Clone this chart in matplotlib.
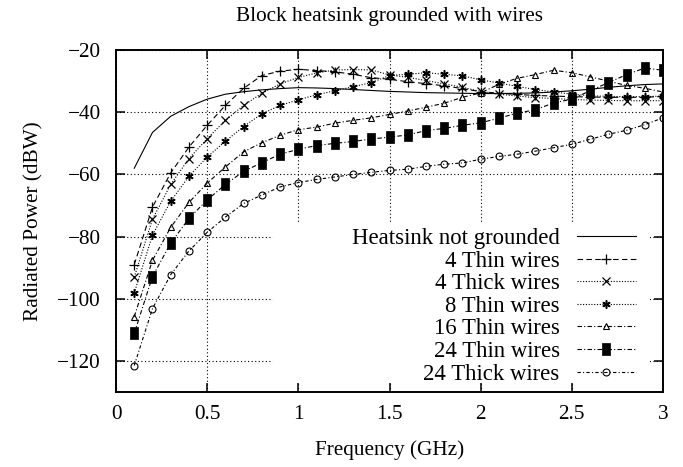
import matplotlib
matplotlib.use("Agg")
import matplotlib.pyplot as plt
from matplotlib.patches import Rectangle

plt.rcParams['font.family'] = ['Liberation Serif', 'DejaVu Serif']

freq = [0.1, 0.2, 0.3, 0.4, 0.5, 0.6, 0.7, 0.8, 0.9, 1.0,
        1.1, 1.2, 1.3, 1.4, 1.5, 1.6, 1.7, 1.8, 1.9, 2.0,
        2.1, 2.2, 2.3, 2.4, 2.5, 2.6, 2.7, 2.8, 2.9, 3.0]

not_grounded = [-58.0, -46.5, -41.3, -38.2, -35.8, -34.2, -33.4, -32.8, -32.4, -32.1,
                -32.2, -32.4, -32.7, -33.0, -33.3, -33.5, -33.7, -33.8, -33.9, -34.0,
                -34.0, -33.9, -33.8, -33.5, -33.1, -32.6, -32.0, -31.5, -31.1, -30.9]
thin4 = [-89.0, -70.5, -59.5, -51.2, -44.2, -37.8, -32.3, -28.2, -26.8, -26.2,
         -26.6, -27.0, -27.8, -28.9, -29.4, -30.2, -30.8, -31.5, -32.4, -33.4,
         -33.9, -34.3, -34.6, -34.8, -35.0, -35.1, -35.2, -35.2, -35.2, -34.9]
thick4 = [-93.0, -74.4, -63.2, -54.9, -48.5, -42.6, -37.8, -33.9, -30.9, -28.8,
          -27.4, -26.4, -26.3, -26.4, -28.0, -28.8, -29.8, -30.9, -32.0, -33.3,
          -34.2, -34.8, -35.3, -35.6, -35.9, -36.1, -36.2, -36.3, -36.3, -36.3]
thin8 = [-98.1, -79.5, -68.6, -60.6, -54.4, -49.3, -44.6, -40.5, -37.8, -36.0,
         -34.4, -33.1, -31.8, -30.5, -28.2, -27.8, -27.3, -27.8, -28.3, -29.6,
         -30.6, -31.7, -32.7, -33.5, -34.2, -34.7, -34.9, -35.0, -35.0, -34.8]
thin16 = [-105.7, -87.6, -77.0, -69.0, -62.8, -57.6, -52.7, -49.8, -47.4, -45.6,
          -44.8, -43.5, -42.6, -41.8, -40.7, -39.6, -38.4, -37.1, -35.2, -33.8,
          -31.0, -29.1, -27.9, -26.5, -27.3, -28.6, -30.0, -31.4, -32.3, -33.5]
thin24 = [-111.1, -92.8, -82.1, -74.1, -68.2, -63.2, -59.0, -56.2, -53.5, -51.9,
          -50.7, -50.0, -49.4, -48.6, -48.0, -47.3, -45.9, -45.2, -44.2, -43.4,
          -41.9, -40.3, -39.2, -37.0, -35.8, -33.1, -30.5, -27.9, -25.8, -26.5]
thick24 = [-121.4, -103.1, -92.2, -84.6, -78.6, -73.7, -69.3, -66.6, -64.0, -62.6,
           -61.6, -60.8, -60.0, -59.3, -58.7, -58.3, -57.4, -56.7, -56.3, -55.1,
           -54.2, -53.5, -52.5, -51.4, -50.3, -48.7, -47.1, -45.8, -44.0, -41.8]

labels = ["Heatsink not grounded", "4 Thin wires", "4 Thick wires", "8 Thin wires",
          "16 Thin wires", "24 Thin wires", "24 Thick wires"]
xticks = [0, 0.5, 1, 1.5, 2, 2.5, 3]
xticklabels = ["0", "0.5", "1", "1.5", "2", "2.5", "3"]
yticks = [-120, -100, -80, -60, -40, -20]

fig = plt.figure(figsize=(6.83, 4.67), dpi=100)
ax = fig.add_axes([116/683, 1 - 392.3/467, (663 - 116)/683, (392.3 - 50)/467])

lw = 0.8
tall_sq = [(-2, -3), (2, -3), (2, 3), (-2, 3), (-2, -3)]
ax.plot(freq, not_grounded, color='black', lw=lw, ls='-', label=labels[0], zorder=3)
ax.plot(freq, thin4, color='black', lw=lw, ls=(0, (5, 3)), marker='+', ms=7, mew=0.9,
        label=labels[1], zorder=3)
ax.plot(freq, thick4, color='black', lw=lw, ls=(0, (1, 1.5)), marker='x', ms=5.5, mew=0.9,
        label=labels[2], zorder=3)
ax.plot(freq, thin8, color='black', lw=lw, ls=(0, (1, 1.5)), marker=(6, 2, 0), ms=6, mew=1.1,
        label=labels[3], zorder=3)
ax.plot(freq, thin16, color='black', lw=lw, ls=(0, (4, 2, 1, 2)), marker='^', ms=4,
        mfc='none', mew=0.8, label=labels[4], zorder=3)
ax.plot(freq, thin24, color='black', lw=lw, ls=(0, (4, 2, 1, 2)), marker=tall_sq, ms=8.5,
        mfc='black', mew=0.5, label=labels[5], zorder=3)
ax.plot(freq, thick24, color='black', lw=lw, ls=(0, (3, 2, 1, 2)), marker='o', ms=5,
        mfc='none', mew=0.8, label=labels[6], zorder=3)

ax.set_xlim(0, 3)
ax.set_ylim(-130, -20)
ax.set_xticks(xticks)
ax.set_xticklabels(xticklabels)
ax.set_yticks(yticks)

ax.set_axisbelow(True)
ax.grid(True, color='black', lw=0.8, ls=(0, (1, 2.2)))

# opaque legend background covering the grid
ax.add_patch(Rectangle((0.287, 0.027), 0.976 - 0.287, 0.491 - 0.027, transform=ax.transAxes,
                       facecolor='white', edgecolor='none', zorder=1))

fs = 15.3
lfs = 16.4
ax.tick_params(direction='in', length=6.5, width=1.1, top=True, right=True,
               labelsize=fs, pad=9)
ax.tick_params(axis='y', pad=11)
for s in ax.spines.values():
    s.set_linewidth(1.4)

ax.set_title("Block heatsink grounded with wires", fontsize=fs, pad=21)
ax.set_xlabel("Frequency (GHz)", fontsize=fs, labelpad=11.5)
ax.set_ylabel("Radiated Power (dBW)", fontsize=fs, labelpad=10)

leg = ax.legend(loc='upper right', bbox_to_anchor=(0.9506, 0.480), frameon=False,
                markerfirst=False, fontsize=lfs, handlelength=2.6, handletextpad=0.75,
                labelspacing=0.07, borderpad=0, borderaxespad=0)
leg.set_zorder(4)

fig.savefig("out.png", dpi=100)
